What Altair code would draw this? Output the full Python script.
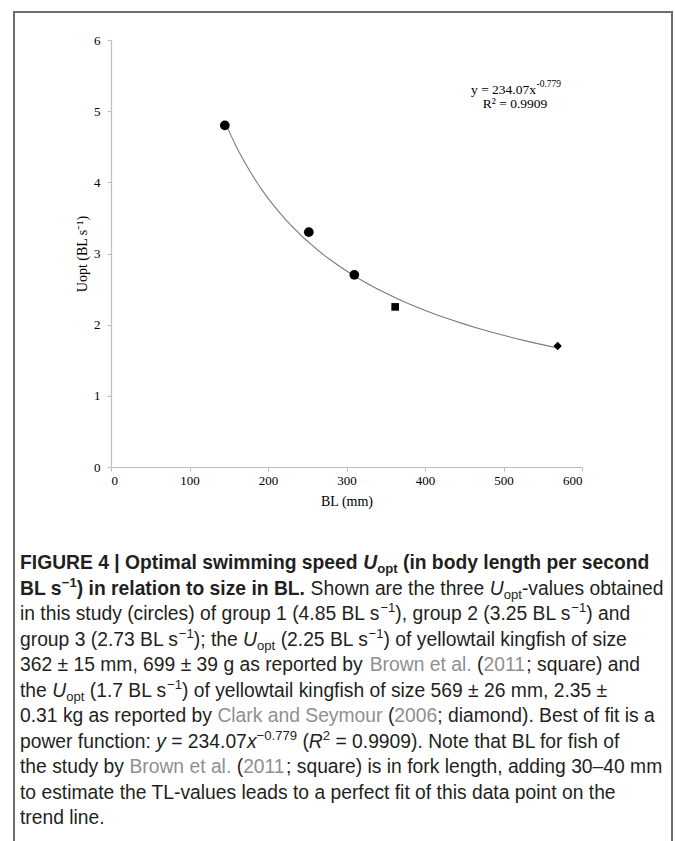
import altair as alt
import pandas as pd

# ---------------- data ----------------
bl_mm = [145, 252, 310, 362, 569]
uopt = [4.8, 3.3, 2.7, 2.25, 1.7]
source = ["This study", "This study", "This study",
          "Brown et al. (2011)", "Clark and Seymour (2006)"]
x_ticks = [0, 100, 200, 300, 400, 500, 600]
y_ticks = [0, 1, 2, 3, 4, 5, 6]
x_title = "BL (mm)"
y_title = "Uopt (BL s⁻¹)"
eq_main = "y = 234.07x"
eq_exp = "-0.779"
eq_r2 = "R² = 0.9909"

# caption: one list of (text, style) runs per line
# style flags: b bold, i italic, ^ superscript, _ subscript, g grey link
caption_lines = [
    [("FIGURE 4 | Optimal swimming speed ", "b"), ("U", "bi"), ("opt", "b_"),
     (" (in body length per second", "b")],
    [("BL s", "b"), ("−1", "b^"), (") in relation to size in BL.", "b"),
     (" Shown are the three ", ""), ("U", "i"), ("opt", "_"), ("-values obtained", "")],
    [("in this study (circles) of group 1 (4.85 BL s", ""), ("−1", "^"),
     ("), group 2 (3.25 BL s", ""), ("−1", "^"), (") and", "")],
    [("group 3 (2.73 BL s", ""), ("−1", "^"), ("); the ", ""), ("U", "i"), ("opt", "_"),
     (" (2.25 BL s", ""), ("−1", "^"), (") of yellowtail kingfish of size", "")],
    [("362 ± 15 mm, 699 ± 39 g as reported by ", ""), ("Brown et al.", "g"), (" (", ""),
     ("2011", "g"), ("; square) and", "")],
    [("the ", ""), ("U", "i"), ("opt", "_"), (" (1.7 BL s", ""), ("−1", "^"),
     (") of yellowtail kingfish of size 569 ± 26 mm, 2.35 ±", "")],
    [("0.31 kg as reported by ", ""), ("Clark and Seymour", "g"), (" (", ""),
     ("2006", "g"), ("; diamond). Best of fit is a", "")],
    [("power function: ", ""), ("y", "i"), (" = 234.07", ""), ("x", "i"), ("−0.779", "^"),
     (" (", ""), ("R", "i"), ("2", "^"), (" = 0.9909). Note that BL for fish of", "")],
    [("the study by ", ""), ("Brown et al.", "g"), (" (", ""), ("2011", "g"),
     ("; square) is in fork length, adding 30–40 mm", "")],
    [("to estimate the TL-values leads to a perfect fit of this data point on the", "")],
    [("trend line.", "")],
]

df = pd.DataFrame({"bl": bl_mm, "uopt": uopt, "source": source})

# ---------------- layout ----------------
W, H = 471, 427
PL, PT = 111, 40
CW, CH = 675, 841
SERIF = "Liberation Serif"
SANS = "Liberation Sans"


def px(xa):
    return xa - PL


def py(ya):
    return ya - PT


one = pd.DataFrame({"k": [0]})

xenc = alt.X("bl:Q", scale=alt.Scale(domain=[0, 600], nice=False),
             axis=alt.Axis(values=x_ticks, title=x_title, grid=False,
                           titlePadding=7, labelPadding=3))
yenc = alt.Y("uopt:Q", scale=alt.Scale(domain=[0, 6], nice=False),
             axis=alt.Axis(values=y_ticks, title=y_title, grid=False,
                           titlePadding=4, labelPadding=7))

base = alt.Chart(df)

trend = base.transform_regression("bl", "uopt", method="pow").mark_line(
    color="#7a7a7a", strokeWidth=1.1).encode(x=xenc, y=yenc)

circles = base.transform_filter(alt.datum.source == "This study").mark_circle(
    color="black", opacity=1, size=95).encode(x=xenc, y=yenc)
square = base.transform_filter(alt.datum.source == "Brown et al. (2011)").mark_square(
    color="black", opacity=1, size=58).encode(x=xenc, y=yenc)
diamond = base.transform_filter(alt.datum.source == "Clark and Seymour (2006)").mark_point(
    shape="diamond", filled=True, color="black", opacity=1, size=70).encode(x=xenc, y=yenc)


def txt(x, y, s, font=SANS, size=18, weight="normal", style="normal",
        color="#231f20", align="left", baseline="alphabetic"):
    return alt.Chart(one).mark_text(
        font=font, fontSize=size, fontWeight=weight, fontStyle=style, color=color,
        align=align, baseline=baseline
    ).encode(x=alt.value(x), y=alt.value(y), text=alt.value(s))


def rule(x1, y1, x2, y2):
    return alt.Chart(one).mark_rule(color="#6e6e6e", strokeWidth=2).encode(
        x=alt.value(x1), y=alt.value(y1), x2=alt.value(x2), y2=alt.value(y2))


# equation
eq_layers = [
    txt(px(536), py(93.5), eq_main, font=SERIF, size=13.5, color="black", align="right"),
    txt(px(536.5), py(87), eq_exp, font=SERIF, size=9.5, color="black"),
    txt(px(515), py(107.5), eq_r2, font=SERIF, size=13.5, color="black", align="center"),
]

# frame
frame = [
    rule(px(14), py(12), px(14), py(CH + 5)),
    rule(px(13), py(12), px(673), py(12)),
    rule(px(672), py(12), px(672), py(CH + 5)),
]

# --- caption layout with Arial/Liberation Sans advance widths (units / 1000) ---
REG = {" ": 278, "(": 333, ")": 333, ",": 278, "-": 333, ".": 278, ":": 278, ";": 278,
       "=": 584, "±": 584, "−": 584, "–": 556, "|": 260,
       "A": 667, "B": 667, "C": 722, "D": 722, "E": 667, "F": 611, "G": 778, "H": 722,
       "I": 278, "J": 500, "K": 667, "L": 556, "M": 833, "N": 722, "O": 778, "P": 667,
       "Q": 778, "R": 722, "S": 667, "T": 611, "U": 722, "V": 667, "W": 944, "X": 667,
       "Y": 667, "Z": 611,
       "a": 556, "b": 556, "c": 500, "d": 556, "e": 556, "f": 278, "g": 556, "h": 556,
       "i": 222, "j": 222, "k": 500, "l": 222, "m": 833, "n": 556, "o": 556, "p": 556,
       "q": 556, "r": 333, "s": 500, "t": 278, "u": 556, "v": 500, "w": 722, "x": 500,
       "y": 500, "z": 500}
for d in "0123456789":
    REG[d] = 556
BOLD = dict(REG)
BOLD.update({"|": 280, ":": 333, ";": 333, "A": 722, "B": 722, "J": 556, "K": 722,
             "L": 611, "a": 556, "b": 611, "c": 556, "d": 611, "e": 556, "f": 333,
             "g": 611, "h": 611, "i": 278, "j": 278, "k": 556, "l": 278, "m": 889,
             "n": 611, "o": 611, "p": 611, "q": 611, "r": 389, "s": 556, "t": 333,
             "u": 611, "v": 556, "w": 778, "x": 556, "y": 556, "z": 500})


def width(s, bold, size):
    tbl = BOLD if bold else REG
    return sum(tbl.get(ch, 556) for ch in s) * size / 1000.0


CAP_X0 = 20
CAP_Y0 = 569
CAP_DY = 25.5
CAP_SIZE = 19.3
GREY = "#8f8f8f"

cap_layers = []
for ln, runs in enumerate(caption_lines):
    cur = CAP_X0
    yb = CAP_Y0 + CAP_DY * ln
    for text, fl in runs:
        bold = "b" in fl
        size = CAP_SIZE * (0.68 if ("^" in fl or "_" in fl) else 1.0)
        yy = yb - (8 if "^" in fl else (-4 if "_" in fl else 0))
        lead = len(text) - len(text.lstrip(" "))
        xdraw = cur + width(" " * lead, bold, size)
        cap_layers.append(txt(px(xdraw), py(yy), text.strip(" "), size=size,
                              weight="bold" if bold else "normal",
                              style="italic" if "i" in fl else "normal",
                              color=GREY if "g" in fl else "#231f20"))
        cur += width(text, bold, size)

chart = alt.layer(trend, circles, square, diamond, *eq_layers, *frame, *cap_layers).properties(
    width=W, height=H,
    padding={"left": PL, "top": PT, "right": CW - PL - W, "bottom": CH - PT - H},
    autosize=alt.AutoSizeParams(type="none"),
    background="white",
).configure_view(stroke=None).configure_axis(
    labelFont=SERIF, labelFontSize=13, labelColor="black",
    titleFont=SERIF, titleFontSize=14, titleFontWeight="normal", titleColor="black",
    domainColor="#bdbdbd", tickColor="#bdbdbd", tickSize=4, domainWidth=1.2,
)

chart.save("out.html", embed_options={"renderer": "svg", "actions": False})
